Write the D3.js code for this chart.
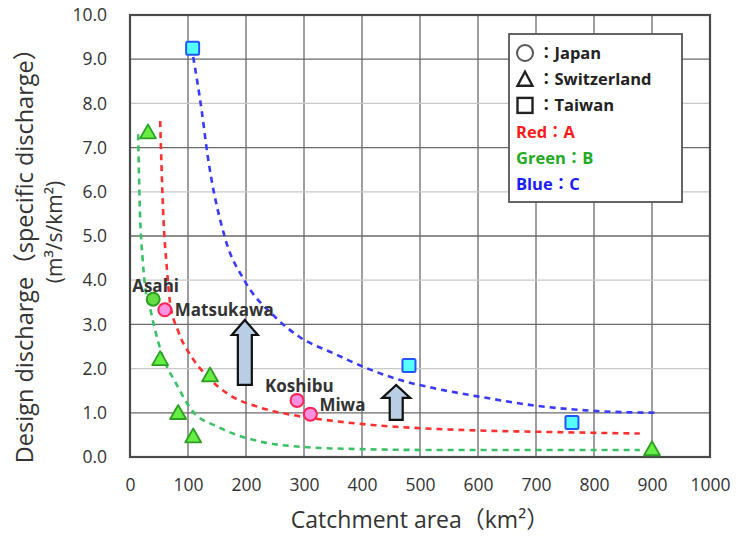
<!DOCTYPE html>
<html>
<head>
<meta charset="utf-8">
<script src="https://cdn.jsdelivr.net/npm/d3@7"></script>
<style>
  html, body { margin: 0; padding: 0; background: #fff; }
  svg { display: block; font-family: "Open Sans", "Noto Sans CJK JP", sans-serif; }
</style>
</head>
<body>
<svg id="chart"></svg>
<script>
// points: [catchment area km2, specific discharge m3/s/km2]
const japanPts = [
  { name: "Matsukawa", area: 60, q: 3.33, group: "A" },
  { name: "Koshibu", area: 288, q: 1.28, group: "A" },
  { name: "Miwa", area: 311, q: 0.97, group: "A" },
  { name: "Asahi", area: 40, q: 3.57, group: "B" },
];
const swissPts = [
  { area: 31, q: 7.3 },
  { area: 52, q: 2.17 },
  { area: 138, q: 1.8 },
  { area: 83, q: 0.95 },
  { area: 109, q: 0.42 },
  { area: 900, q: 0.13 },
];
const taiwanPts = [
  { area: 108, q: 9.25 },
  { area: 481, q: 2.07 },
  { area: 762, q: 0.78 },
];
// dashed envelope curves
const curveA = [[52, 7.6], [57, 5.6], [64, 4.2], [69, 3.5], [83, 2.85], [107, 2.25], [135, 1.8], [172, 1.4], [224, 1.12], [280, 0.95], [336, 0.84], [422, 0.72], [503, 0.65], [600, 0.6], [707, 0.57], [879, 0.53]];
const curveB = [[14, 7.3], [17, 5.6], [22, 4.45], [29, 3.6], [34, 3.4], [40, 3.05], [57, 2.25], [78, 1.7], [107, 1.05], [152, 0.68], [221, 0.36], [307, 0.22], [393, 0.18], [503, 0.16], [707, 0.16], [879, 0.16]];
const curveC = [[109, 9.05], [124, 7.8], [133, 6.9], [164, 4.95], [197, 4.0], [250, 3.17], [293, 2.71], [350, 2.35], [408, 2.01], [466, 1.74], [523, 1.56], [609, 1.35], [700, 1.16], [805, 1.04], [910, 1.0]];
const arrows = [
  { area: 198, from: 1.63, to: 3.1 },
  { area: 459, from: 0.84, to: 1.63 },
];
const xTicks = d3.range(0, 1001, 100);
const yTicks = d3.range(0, 10.01, 1);
const legendItems = [
  { shape: "circle", text: "：Japan", color: "#222" },
  { shape: "triangle", text: "：Switzerland", color: "#222" },
  { shape: "square", text: "：Taiwan", color: "#222" },
  { shape: null, text: "Red：A", color: "#ff1a1a" },
  { shape: null, text: "Green：B", color: "#22aa22" },
  { shape: null, text: "Blue：C", color: "#1a1aff" },
];

const W = 736, H = 536;
const svg = d3.select("#chart").attr("width", W).attr("height", H);

const x = d3.scaleLinear().domain([0, 1000]).range([130, 710]);
const y = d3.scaleLinear().domain([0, 10]).range([457, 15]);

// grid
svg.append("g")
  .selectAll("line")
  .data(xTicks.slice(1, -1))
  .join("line")
  .attr("x1", (d) => x(d)).attr("x2", (d) => x(d))
  .attr("y1", y(0)).attr("y2", y(10))
  .attr("stroke", "#6a6a6a").attr("stroke-width", 1.3);
svg.append("g")
  .selectAll("line")
  .data(yTicks.slice(1, -1))
  .join("line")
  .attr("x1", x(0)).attr("x2", x(1000))
  .attr("y1", (d) => y(d)).attr("y2", (d) => y(d))
  .attr("stroke", (d) => (d % 2 === 1 ? "#6a6a6a" : "#c8c8c8"))
  .attr("stroke-width", 1.3);

// frame
svg.append("rect")
  .attr("x", x(0)).attr("y", y(10))
  .attr("width", x(1000) - x(0)).attr("height", y(0) - y(10))
  .attr("fill", "none").attr("stroke", "#4a4a4a").attr("stroke-width", 2.2);

// axes labels
const xAxis = svg.append("g")
  .attr("transform", `translate(0, ${y(0)})`)
  .call(d3.axisBottom(x).tickValues(xTicks).tickFormat(d3.format("d")).tickSize(0).tickPadding(22));
xAxis.select(".domain").remove();
xAxis.selectAll("text").attr("font-size", 17.5).attr("fill", "#333")
  .attr("font-family", "Open Sans");

const yAxis = svg.append("g")
  .attr("transform", `translate(${x(0)}, 0)`)
  .call(d3.axisLeft(y).tickValues(yTicks).tickFormat(d3.format(".1f")).tickSize(0).tickPadding(23));
yAxis.select(".domain").remove();
yAxis.selectAll("text").attr("font-size", 17.5).attr("fill", "#333")
  .attr("font-family", "Open Sans");

svg.append("text")
  .attr("x", (x(0) + x(1000)) / 2).attr("y", 528)
  .attr("text-anchor", "middle").attr("font-size", 23).attr("fill", "#333")
  .text("Catchment area（km²）");

svg.append("text")
  .attr("transform", `translate(33, 250) rotate(-90)`)
  .attr("text-anchor", "middle").attr("font-size", 23.5).attr("fill", "#333")
  .text("Design discharge（specific discharge）");
svg.append("text")
  .attr("transform", `translate(62, 232) rotate(-90)`)
  .attr("text-anchor", "middle").attr("font-size", 21).attr("fill", "#333")
  .text("(m³/s/km²)");

// dashed curves
const line = d3.line()
  .x((d) => x(d[0]))
  .y((d) => y(d[1]))
  .curve(d3.curveMonotoneX);
[
  { pts: curveB, color: "#3cc066" },
  { pts: curveA, color: "#ff3030" },
  { pts: curveC, color: "#3a3aff" },
].forEach((c) => {
  svg.append("path")
    .datum(c.pts)
    .attr("d", line)
    .attr("fill", "none")
    .attr("stroke", c.color)
    .attr("stroke-width", 2.6)
    .attr("stroke-dasharray", "6,5");
});

// arrows
arrows.forEach((a, i) => {
  const cx = x(a.area);
  const yb = y(a.from), yt = y(a.to);
  const sw = i === 0 ? 7 : 6.5;
  const hw = i === 0 ? 13 : 14;
  const hl = i === 0 ? 15 : 13;
  const pts = [
    [cx - sw, yb], [cx - sw, yt + hl], [cx - hw, yt + hl], [cx, yt],
    [cx + hw, yt + hl], [cx + sw, yt + hl], [cx + sw, yb],
  ];
  svg.append("path")
    .attr("d", d3.line()(pts) + "Z")
    .attr("fill", "#b9cde5")
    .attr("stroke", "#111")
    .attr("stroke-width", 2.2)
    .attr("stroke-linejoin", "miter");
});

// markers
svg.append("g")
  .selectAll("path")
  .data(swissPts)
  .join("path")
  .attr("transform", (d) => `translate(${x(d.area)}, ${y(d.q) - 2})`)
  .attr("d", "M0,-8 L8,6 L-8,6 Z")
  .attr("fill", "#66ee44")
  .attr("stroke", "#2e9e24")
  .attr("stroke-width", 1.8)
  .attr("stroke-linejoin", "round");

svg.append("g")
  .selectAll("rect")
  .data(taiwanPts)
  .join("rect")
  .attr("x", (d) => x(d.area) - 6.5)
  .attr("y", (d) => y(d.q) - 6.5)
  .attr("width", 13).attr("height", 13)
  .attr("rx", 1.5)
  .attr("fill", "#55ffff")
  .attr("stroke", "#2255ff")
  .attr("stroke-width", 2);

svg.append("g")
  .selectAll("circle")
  .data(japanPts)
  .join("circle")
  .attr("cx", (d) => x(d.area))
  .attr("cy", (d) => y(d.q))
  .attr("r", 6.5)
  .attr("fill", (d) => (d.group === "A" ? "#ff90e0" : "#66dd44"))
  .attr("stroke", (d) => (d.group === "A" ? "#ff2255" : "#2e9e24"))
  .attr("stroke-width", 2);

// point names
const labelPos = {
  Asahi: { dx: -21, dy: -7, anchor: "start" },
  Matsukawa: { dx: 10, dy: 6, anchor: "start" },
  Koshibu: { dx: -32, dy: -8, anchor: "start" },
  Miwa: { dx: 9, dy: -3, anchor: "start" },
};
svg.append("g")
  .selectAll("text")
  .data(japanPts)
  .join("text")
  .attr("x", (d) => x(d.area) + labelPos[d.name].dx)
  .attr("y", (d) => y(d.q) + labelPos[d.name].dy)
  .attr("text-anchor", (d) => labelPos[d.name].anchor)
  .attr("font-size", 17)
  .attr("font-weight", "bold")
  .attr("fill", "#333")
  .text((d) => d.name);

// legend
const lg = svg.append("g").attr("transform", "translate(509, 34)");
lg.append("rect")
  .attr("width", 173).attr("height", 168)
  .attr("fill", "#fff").attr("stroke", "#555").attr("stroke-width", 1.8);
legendItems.forEach((d, i) => {
  const cy = 19 + i * 26.2;
  if (d.shape === "circle") {
    lg.append("circle").attr("cx", 16).attr("cy", cy).attr("r", 8)
      .attr("fill", "none").attr("stroke", "#555").attr("stroke-width", 2);
  } else if (d.shape === "triangle") {
    lg.append("path").attr("transform", `translate(16, ${cy})`)
      .attr("d", "M0,-7.5 L7.5,6.5 L-7.5,6.5 Z")
      .attr("fill", "none").attr("stroke", "#222").attr("stroke-width", 2.4);
  } else if (d.shape === "square") {
    lg.append("rect").attr("x", 8.5).attr("y", cy - 7.5).attr("width", 15).attr("height", 15)
      .attr("fill", "none").attr("stroke", "#222").attr("stroke-width", 2.4);
  }
  lg.append("text")
    .attr("x", d.shape ? 29 : 7)
    .attr("y", cy + 6)
    .attr("font-size", 16.5)
    .attr("font-weight", "bold")
    .attr("fill", d.color)
    .text(d.text);
});
</script>
</body>
</html>
